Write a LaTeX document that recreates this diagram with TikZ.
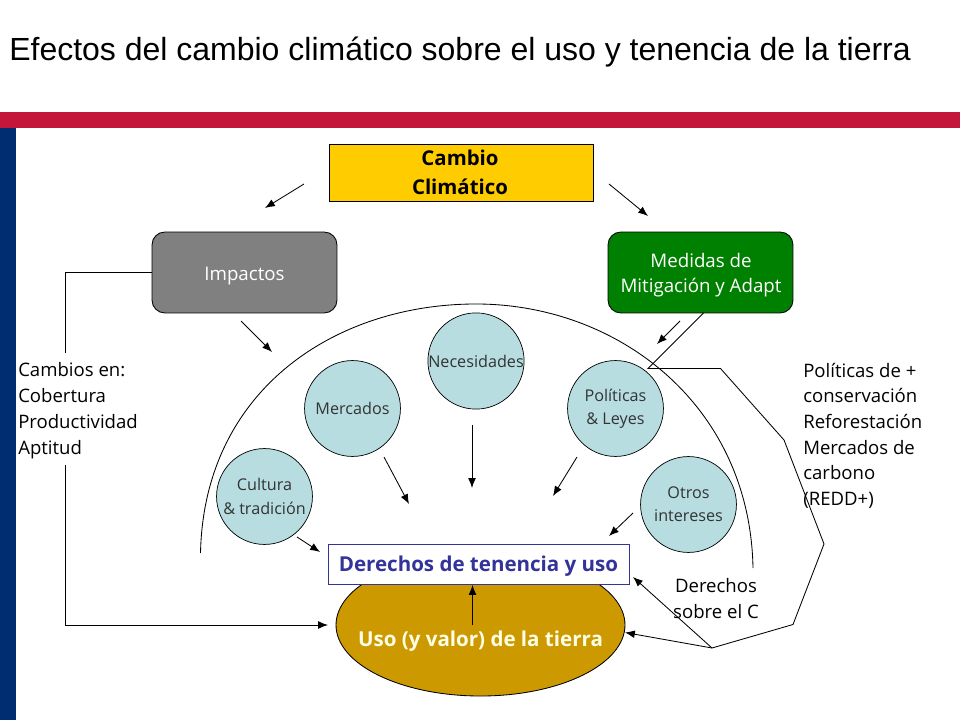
\documentclass[tikz,border=0pt]{standalone}
\usepackage{fontspec}
\setmainfont{Open Sans}
\newfontfamily\titlefont{Liberation Sans}
\usetikzlibrary{calc,positioning,arrows.meta,shapes.geometric}
\definecolor{barred}{HTML}{C4153B}
\definecolor{barblue}{HTML}{002D72}
\definecolor{cambiofill}{HTML}{FFCC00}
\definecolor{circlefill}{HTML}{B7DDE1}
\definecolor{usofill}{HTML}{CC9900}
\definecolor{derechostext}{HTML}{333399}
\tikzset{
    arr/.style={-{Latex[length=7pt,width=5.5pt]}, line width=0.6pt},
    plain/.style={line width=0.6pt},
    bubble/.style={circle, draw, line width=0.5pt, fill=circlefill, minimum size=68.2pt, inner sep=0pt, align=center, text=black!80, font=\fontsize{11.5}{16.6}\selectfont},
    sidetext/.style={anchor=north west, align=left, inner sep=0pt, font=\fontsize{13.2}{18.3}\selectfont},
    headbox/.style={rounded corners=9pt, draw, line width=0.6pt, minimum width=131.5pt, minimum height=57.5pt, text=white, font=\fontsize{13.3}{18}\selectfont}
}
\begin{document}
\begin{tikzpicture}[x=0.025cm,y=-0.025cm]
            \useasboundingbox (0,0) rectangle (960,720);
            % Bars
            \fill[barred] (0,112) rectangle (960,128);
            \fill[barblue] (0,128) rectangle (16,720);
            % Title
            \node[anchor=west, inner sep=0pt, font=\titlefont\fontsize{22.75}{26}\selectfont] (title) at (9,52) {Efectos del cambio climático sobre el uso y tenencia de la tierra};
            % Top boxes
            \node[draw, line width=0.5pt, fill=cambiofill, minimum width=187.7pt, minimum height=40.5pt] (cambio) at (461,172.5) {};
            \node[align=center, inner sep=0pt, font=\fontsize{14.5}{20.4}\selectfont\bfseries] (cambiolabel) at (460,172.5) {Cambio\hspace{4.3pt}\\ Climático};
            \node[headbox, fill=gray, text height=14pt, text depth=2.6pt] (impactos) at (244.5,272.5) {Impactos};
            \node[headbox, fill=green!50!black] (medidas) at (700.5,272.5) {};
            \node[align=center, inner sep=0pt, text=white, font=\fontsize{13.3}{18}\selectfont] (medidaslabel) at (701,275) {Medidas de\\Mitigación y Adapt};
            % Big arc
            \coordinate (arcleft) at (200.5,553);
            \draw[plain] (arcleft) .. controls (204,390) and (335,304) .. (476,304) .. controls (618,304) and (750,405) .. (753,568);
            % Circles
            \node[bubble] (necesidades) at (476,361) {Necesidades};
            \node[bubble] (mercados) at (352.5,408.5) {Mercados};
            \node[bubble] (politicas) at (615.5,408.5) {Políticas\\ \& Leyes};
            \node[bubble] (otros) at (688.5,504.5) {Otros\\intereses};
            \node[bubble] (cultura) at (264.5,496.5) {Cultura\\\& tradición};
            % Bottom shapes
            \node[ellipse, draw, line width=0.6pt, fill=usofill, minimum width=205.5pt, minimum height=101pt, inner sep=0pt] (uso) at (480.5,625) {};
            \node[inner sep=0pt, text=white!90!yellow, font=\fontsize{14.6}{16}\selectfont\bfseries] (usolabel) at (480.5,641) {Uso (y valor) de la tierra};
            \node[draw=derechostext, line width=0.6pt, fill=white, minimum width=214pt, minimum height=28.5pt, inner sep=0pt, text=derechostext, text height=13pt, text depth=2.7pt, font=\fontsize{14.6}{16}\selectfont\bfseries] (derechos) at (478.5,564.5) {Derechos de tenencia y uso};
            % Side texts
            \node[sidetext] (cambios) at (18,362.5) {Cambios en:\\Cobertura\\Productividad\\Aptitud};
            \node[sidetext] (politicastext) at (803,362.5) {Políticas de +\\conservación\\Reforestación\\Mercados de\\carbono\\(REDD+)};
            \node[sidetext, anchor=north, align=center] (carbono) at (716,578.5) {Derechos\\sobre el C};
            % Free ends of the arrows
            \coordinate (a1) at (304,184);   \coordinate (b1) at (265,208);
            \coordinate (a2) at (609,184);   \coordinate (b2) at (648,216);
            \coordinate (a3) at (241,321);   \coordinate (b3) at (272,352);
            \coordinate (a4) at (680,321);   \coordinate (b4) at (657,344);
            \coordinate (a5) at (384,457);   \coordinate (b5) at (409,504);
            \coordinate (a6) at (472,425);   \coordinate (b6) at (472,488);
            \coordinate (a7) at (577,457);   \coordinate (b7) at (553,496);
            \coordinate (a8) at (633,513);   \coordinate (b8) at (609,536);
            \coordinate (a9) at (297,537);   \coordinate (b9) at (320,552);
            \foreach \i in {1,...,9} {
                \draw[arr] (a\i) -- (b\i);
            }
            % Left connector
            \coordinate (lefttop) at (65,353);
            \coordinate (leftlow) at (65,465);
            \coordinate (leftcorner) at (65,625);
            \coordinate (leftend) at (328,625);
            \draw[plain] (impactos.west) -| (lefttop);
            \draw[arr] (leftlow) -- (leftcorner) -- (leftend);
            % Right connector
            \coordinate (r0) at (703.5,313);
            \coordinate (r1) at (648,368.5);
            \coordinate (r2) at (720.5,368.5);
            \coordinate (r3) at (784,440);
            \coordinate (r4) at (824,544);
            \coordinate (r5) at (793,624.5);
            \coordinate (r6) at (712,648);
            \coordinate (endbox) at (633,577);
            \coordinate (endoval) at (625,632.5);
            \draw[plain] (r0) -- (r1) -- (r2) -- (r3) -- (r4) -- (r5) -- (r6);
            \draw[arr] (r6) -- (endbox);
            \draw[arr] (r6) -- (endoval);
            % Between the two bottom shapes
            \coordinate (usotop) at (472.5,625);
            \draw[arr] (usotop) -- (derechos.south -| usotop);
        \end{tikzpicture}
\end{document}
